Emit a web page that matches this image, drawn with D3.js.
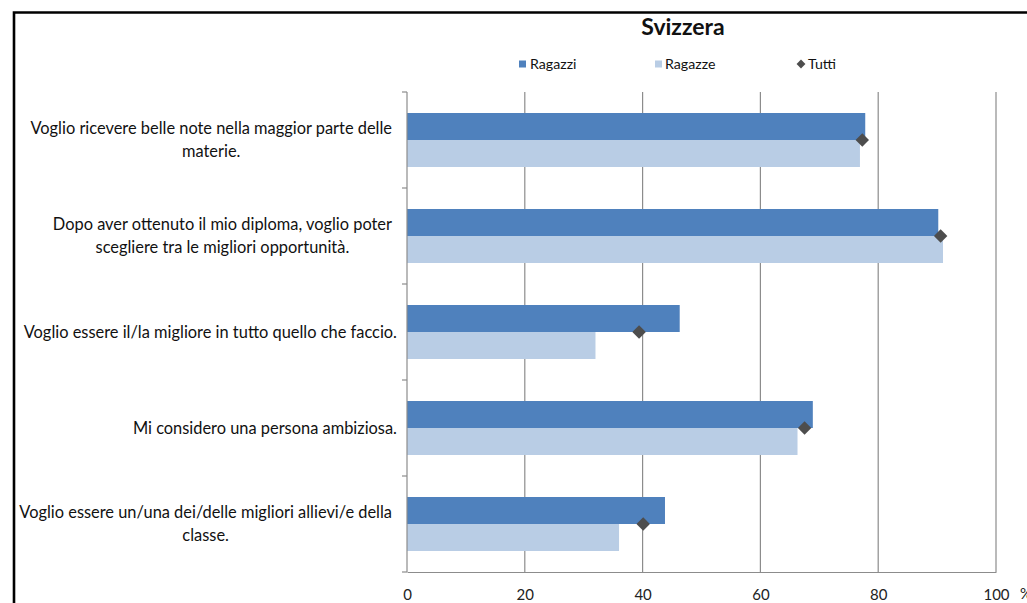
<!DOCTYPE html>
<html>
<head>
<meta charset="utf-8">
<script src="https://cdn.jsdelivr.net/npm/d3@7"></script>
<style>
  html, body { margin: 0; padding: 0; background: #fff; }
  svg { display: block; font-family: Lato, "Open Sans", sans-serif; }
</style>
</head>
<body>
<svg id="chart" width="1027" height="603"></svg>
<script>
// ---- data ----
const title = "Svizzera";
const categories = [
  ["Voglio ricevere belle note nella maggior parte delle", "materie."],
  ["Dopo aver ottenuto il mio diploma, voglio poter", "scegliere tra le migliori opportunità."],
  ["Voglio essere il/la migliore in tutto quello che faccio."],
  ["Mi considero una persona ambiziosa."],
  ["Voglio essere un/una dei/delle migliori allievi/e della", "classe."]
];
const seriesNames = ["Ragazzi", "Ragazze", "Tutti"];
const ragazzi = [77.8, 90.2, 46.3, 68.9, 43.8];
const ragazze = [76.9, 91.0, 32.0, 66.3, 36.0];
const tutti = [77.3, 90.6, 39.4, 67.5, 40.1];
const xTicks = [0, 20, 40, 60, 80, 100];
const unitLabel = "%";

// ---- styles ----
const colRagazzi = "#4f81bd";
const colRagazze = "#b9cde5";
const colTutti = "#4d4d4d";
const gridCol = "#8c8c8c";

const svg = d3.select("#chart");

// frame
svg.append("path")
  .attr("d", "M14,603 L14,12.5 L1027,12.5")
  .attr("fill", "none").attr("stroke", "#000").attr("stroke-width", 2.6);

const x = d3.scaleLinear().domain([0, 100]).range([407, 996]);
const idx = categories.map((d, i) => i);
const y = d3.scaleBand().domain(idx).range([92, 572]).padding(0);
const inner = d3.scaleBand().domain(["Ragazzi", "Ragazze"]).range([0, y.bandwidth()])
  .paddingInner(0).paddingOuter(0.778);

// gridlines
svg.append("g").selectAll("line").data(xTicks.filter(t => t > 0)).join("line")
  .attr("x1", d => x(d)).attr("x2", d => x(d))
  .attr("y1", 92).attr("y2", 572)
  .attr("stroke", gridCol).attr("stroke-width", 1.2);

// bars
const bars = svg.append("g");
bars.append("g").selectAll("rect").data(ragazzi).join("rect")
  .attr("x", x(0)).attr("y", (d, i) => y(i) + inner("Ragazzi"))
  .attr("width", d => x(d) - x(0)).attr("height", inner.bandwidth())
  .attr("fill", colRagazzi);
bars.append("g").selectAll("rect").data(ragazze).join("rect")
  .attr("x", x(0)).attr("y", (d, i) => y(i) + inner("Ragazze"))
  .attr("width", d => x(d) - x(0)).attr("height", inner.bandwidth())
  .attr("fill", colRagazze);

// x axis
const xAxis = d3.axisBottom(x).tickValues(xTicks).tickSize(0).tickPadding(17);
const gx = svg.append("g").attr("transform", "translate(0,572)").call(xAxis);
gx.select(".domain").attr("stroke", gridCol).attr("stroke-width", 1.2);
gx.selectAll("text").attr("font-size", 15).attr("fill", "#222")
  .attr("font-family", "Lato, sans-serif");

// y axis (ticks at band boundaries)
svg.append("line").attr("x1", 407).attr("x2", 407).attr("y1", 92).attr("y2", 572)
  .attr("stroke", gridCol).attr("stroke-width", 1.2);
const boundaries = idx.map(i => y(i)).concat([y(idx[idx.length - 1]) + y.bandwidth()]);
svg.append("g").selectAll("line").data(boundaries).join("line")
  .attr("x1", 402).attr("x2", 407).attr("y1", d => d).attr("y2", d => d)
  .attr("stroke", gridCol).attr("stroke-width", 1.2);

// tutti diamonds
const sym = d3.symbol().type(d3.symbolDiamond2).size(115);
svg.append("g").selectAll("path").data(tutti).join("path")
  .attr("d", sym)
  .attr("transform", (d, i) => `translate(${x(d)},${y(i) + y.bandwidth() / 2})`)
  .attr("fill", colTutti);

// unit label
svg.append("text").attr("x", 1020).attr("y", 599).attr("font-size", 15)
  .attr("fill", "#222").text(unitLabel);

// category labels
const labFont = 16.4;
const lab = svg.append("g").attr("font-size", labFont).attr("fill", "#111");
categories.forEach((lines, i) => {
  const cy = y(i) + y.bandwidth() / 2;
  const g = lab.append("g");
  if (lines.length === 1) {
    g.append("text").attr("x", 397).attr("y", cy + 5.5).attr("text-anchor", "end").text(lines[0]);
  } else {
    const ts = lines.map((t, k) => g.append("text").attr("y", cy - 6 + k * 23).text(t));
    const w = Math.max(...ts.map(t => t.node().getComputedTextLength()));
    const cx = 392 - w / 2;
    ts.forEach(t => t.attr("x", cx).attr("text-anchor", "middle"));
  }
});

// title
svg.append("text").attr("x", 683).attr("y", 35).attr("text-anchor", "middle")
  .attr("font-size", 23).attr("font-weight", "bold").attr("fill", "#111").text(title);

// legend
const legend = svg.append("g").attr("font-size", 14.2).attr("fill", "#111");
const legX = [519, 655, 801];
legend.append("rect").attr("x", legX[0]).attr("y", 60.5).attr("width", 7).attr("height", 7).attr("fill", colRagazzi);
legend.append("rect").attr("x", legX[1]).attr("y", 60.5).attr("width", 7).attr("height", 7).attr("fill", colRagazze);
legend.append("path").attr("d", d3.symbol().type(d3.symbolDiamond2).size(50))
  .attr("transform", `translate(${legX[2]},64)`).attr("fill", colTutti);
legend.append("text").attr("x", legX[0] + 11).attr("y", 68.5).text(seriesNames[0]);
legend.append("text").attr("x", legX[1] + 10).attr("y", 68.5).text(seriesNames[1]);
legend.append("text").attr("x", legX[2] + 7).attr("y", 68.5).text(seriesNames[2]);
</script>
</body>
</html>
